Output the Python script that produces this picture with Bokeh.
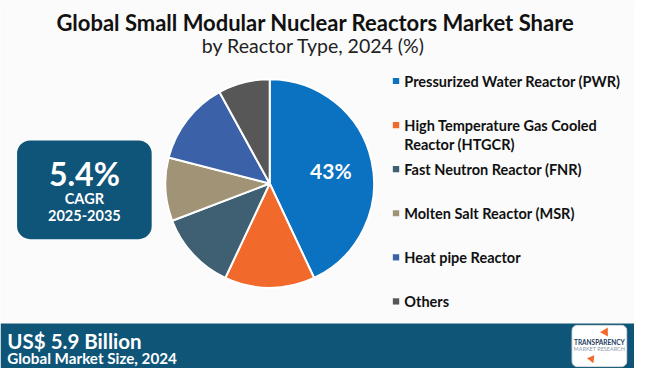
from bokeh.plotting import figure
from bokeh.models import Range1d
from bokeh.core.properties import value
from bokeh.embed import file_html
from bokeh.resources import INLINE
import math

# ---- data ----
title = "Global Small Modular Nuclear Reactors Market Share"
subtitle = "by Reactor Type, 2024 (%)"
categories = ["Pressurized Water Reactor (PWR)",
              "High Temperature Gas Cooled Reactor (HTGCR)",
              "Fast Neutron Reactor (FNR)",
              "Molten Salt Reactor (MSR)",
              "Heat pipe Reactor",
              "Others"]
legend_lines = [["Pressurized Water Reactor (PWR)"],
                ["High Temperature Gas Cooled", "Reactor (HTGCR)"],
                ["Fast Neutron Reactor (FNR)"],
                ["Molten Salt Reactor (MSR)"],
                ["Heat pipe Reactor"],
                ["Others"]]
shares = [43, 14, 12.2, 9.8, 13, 8]
colors = ["#0B71C1", "#F26A2B", "#3F5F72", "#A19476", "#3B62A9", "#575757"]
label_share = "43%"
cagr = "5.4%"
cagr_label = "CAGR"
cagr_period = "2025-2035"
market_size = "US$ 5.9 Billion"
market_label = "Global Market Size, 2024"

W, H = 650, 384
def Y(y):
    return H - y

p = figure(width=634, height=368, output_backend="svg", toolbar_location=None,
           x_range=Range1d(0, W), y_range=Range1d(0, H),
           x_axis_type=None, y_axis_type=None, min_border=0)
p.outline_line_color = None
p.grid.visible = False
p.background_fill_color = "#FBFBFB"
p.border_fill_color = "#FBFBFB"

FONT = value("Lato")

# titles
p.text(x=[323], y=[Y(23)], text=[title], text_align="center", text_baseline="middle",
       text_font=FONT, text_font_style="bold", text_font_size="22px", text_color="#111111")
p.text(x=[321], y=[Y(47)], text=[subtitle], text_align="center", text_baseline="middle",
       text_font=FONT, text_font_size="19.5px", text_color="#222222")

# pie
cx, cy, r = 276, Y(191), 107
total = sum(shares)
starts, ends = [], []
a = math.pi / 2
for s in shares:
    starts.append(a)
    a -= 2 * math.pi * s / total
    ends.append(a)
p.wedge(x=cx, y=cy, radius=r, start_angle=ends, end_angle=starts,
        fill_color=colors, line_color="#FFFFFF", line_width=2)
mid = (starts[0] + ends[0]) / 2
p.text(x=[cx + 0.6 * r * math.cos(mid)], y=[cy + 0.6 * r * math.sin(mid)], text=[label_share],
       text_align="center", text_baseline="middle", text_font=FONT, text_font_style="bold",
       text_font_size="21px", text_color="#FFFFFF")

# legend
leg_y = [84, 130, 176, 222, 268, 314]
for yy, lines, c in zip(leg_y, legend_lines, colors):
    p.rect(x=[405.5], y=[Y(yy)], width=6.5, height=6.5, fill_color=c, line_color=None)
    for i, ln in enumerate(lines):
        p.text(x=[414], y=[Y(yy + 20 * i)], text=[ln], text_align="left", text_baseline="middle",
               text_font=FONT, text_font_style="bold", text_font_size="14.5px", text_color="#111111")

# CAGR box
p.quad(left=[17], right=[155], top=[Y(146)], bottom=[Y(249)], fill_color="#0F5479",
       line_color=None, border_radius=13)
p.text(x=[86], y=[Y(180)], text=[cagr], text_align="center", text_baseline="middle",
       text_font=FONT, text_font_style="bold", text_font_size="32px", text_color="#FFFFFF")
p.text(x=[86], y=[Y(207)], text=[cagr_label], text_align="center", text_baseline="middle",
       text_font=FONT, text_font_style="bold", text_font_size="14.5px", text_color="#FFFFFF")
p.text(x=[86], y=[Y(224)], text=[cagr_period], text_align="center", text_baseline="middle",
       text_font=FONT, text_font_style="bold", text_font_size="14.5px", text_color="#FFFFFF")

# bottom bar
p.quad(left=[0], right=[W], top=[Y(337)], bottom=[0], fill_color="#0F5577", line_color=None)
p.text(x=[7], y=[Y(355)], text=[market_size], text_align="left", text_baseline="middle",
       text_font=FONT, text_font_style="bold", text_font_size="20.5px", text_color="#FFFFFF")
p.text(x=[7], y=[Y(373)], text=[market_label], text_align="left", text_baseline="middle",
       text_font=FONT, text_font_style="bold", text_font_size="15.2px", text_color="#FFFFFF")

# logo
p.quad(left=[586], right=[642], top=[Y(339)], bottom=[Y(382)], fill_color="#FFFFFF",
       line_color="#DDDDDD", border_radius=5)
p.scatter(x=[620], y=[Y(346)], marker="triangle", size=9, angle=-0.5,
          fill_color="#F26A2B", line_color=None)
p.text(x=[614], y=[Y(357)], text=["TRANSPARENCY"], text_align="center", text_baseline="middle",
       text_font=FONT, text_font_style="bold", text_font_size="6.5px", text_color="#1B3A5C")
p.text(x=[614], y=[Y(364)], text=["MARKET RESEARCH"], text_align="center", text_baseline="middle",
       text_font=FONT, text_font_size="5.5px", text_color="#8A9AAA")
p.scatter(x=[606], y=[Y(374)], marker="triangle", size=8, angle=math.pi + 0.4,
          fill_color="#F26A2B", line_color=None)

open("out.html", "w").write(file_html(p, INLINE))
